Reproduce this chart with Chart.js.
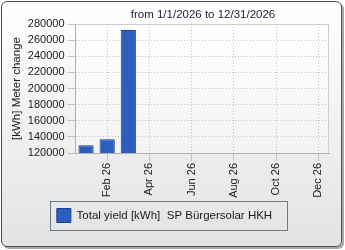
<!DOCTYPE html>
<html>
<head>
<meta charset="utf-8">
<script src="https://cdn.jsdelivr.net/npm/chart.js@4"></script>
<style>
  html, body { margin: 0; padding: 0; background: #fff; }
  #wrap { position: relative; width: 345px; height: 250px; }
  #panel {
    position: absolute; left: 1px; top: 1px; width: 339px; height: 244px;
    border: 1px solid #4a5058; border-radius: 6px;
    background: linear-gradient(#ffffff, #e3e3e3);
    box-shadow: 2px 2px 0 #a8a8a8;
  }
  #chart1 { position: absolute; left: 0; top: 0; }
</style>
</head>
<body>
<div id="wrap">
  <div id="panel"></div>
  <canvas id="chart1" width="345" height="250"></canvas>
</div>
<script>
// month categories for 2026
const months = ["Jan 26", "Feb 26", "Mar 26", "Apr 26", "May 26", "Jun 26",
                "Jul 26", "Aug 26", "Sep 26", "Oct 26", "Nov 26", "Dec 26"];
// meter change per month (kWh), only Jan-Mar recorded
const totalYield = [129500, 137000, 272500, null, null, null, null, null, null, null, null, null];
const seriesName = "Total yield [kWh]  SP Bürgersolar HKH";
const titleText = "from 1/1/2026 to 12/31/2026";
const yTitle = "[kWh] Meter change";

const FONT = "'Liberation Sans', Arial, sans-serif";
const txt = "#1a1a1a";
const gridCol = "#c4c4c4";

// plot background + frame, title, legend border
Chart.register({
  id: "panelBits",
  beforeDraw: function (chart) {
    const ctx = chart.ctx;
    const a = chart.chartArea;
    const g = ctx.createLinearGradient(0, a.top, 0, a.bottom);
    g.addColorStop(0, "#ffffff");
    g.addColorStop(1, "#f3f3f3");
    ctx.save();
    ctx.fillStyle = g;
    ctx.fillRect(a.left, a.top, a.right - a.left, a.bottom - a.top);
    ctx.strokeStyle = "#cfcfcf";
    ctx.lineWidth = 1;
    ctx.beginPath();
    ctx.moveTo(a.left, a.top + 0.5);
    ctx.lineTo(a.right - 0.5, a.top + 0.5);
    ctx.lineTo(a.right - 0.5, a.bottom);
    ctx.stroke();
    ctx.restore();
  },
  afterDraw: function (chart) {
    const ctx = chart.ctx;
    ctx.save();
    ctx.font = "11.5px " + FONT;
    ctx.fillStyle = "#1c1c3a";
    ctx.textAlign = "center";
    ctx.textBaseline = "middle";
    ctx.fillText(titleText, 203, 15);
    const hb = chart.legend.legendHitBoxes[0];
    if (hb) {
      const cy = hb.top + hb.height / 2;
      ctx.strokeStyle = "#6b7885";
      ctx.lineWidth = 1;
      ctx.strokeRect(Math.round(hb.left - 7) + 0.5, Math.round(cy - 15) + 0.5,
                     Math.round(hb.width + 22), 29);
    }
    ctx.restore();
  },
});

new Chart(document.getElementById("chart1"), {
  type: "bar",
  data: {
    labels: months,
    datasets: [{
      label: seriesName,
      data: totalYield,
      backgroundColor: "#2b5fbf",
      borderColor: "#1c3f86",
      borderWidth: 1,
      borderSkipped: false,
      barPercentage: 0.72,
      categoryPercentage: 1.0,
    }],
  },
  options: {
    responsive: false,
    animation: false,
    layout: { padding: { top: 24, right: 16, left: 0, bottom: 17.5 } },
    plugins: {
      title: { display: false },
      tooltip: { enabled: false },
      legend: {
        position: "bottom",
        labels: {
          boxWidth: 14, boxHeight: 14,
          color: txt,
          font: { family: FONT, size: 11.5 },
          padding: 10,
        },
      },
    },
    scales: {
      x: {
        offset: true,
        grid: {
          offset: false,
          tickLength: 8,
          color: function (c) { return c.index % 2 === 1 ? gridCol : "rgba(0,0,0,0)"; },
          tickColor: function (c) { return c.index % 2 === 1 ? gridCol : "rgba(0,0,0,0)"; },
        },
        border: { color: "#b0b0b0", dash: [1, 2] },
        ticks: {
          autoSkip: false,
          minRotation: 90, maxRotation: 90,
          padding: 2,
          color: txt,
          font: { family: FONT, size: 11 },
          callback: function (v, i) { return i % 2 === 1 ? months[i] : ""; },
        },
        afterFit: function (s) { s.height = 45.5; },
      },
      y: {
        min: 120000, max: 280000,
        grid: { tickLength: 8, color: gridCol },
        border: { color: "#b0b0b0", dash: [1, 2] },
        ticks: {
          stepSize: 20000,
          autoSkip: false,
          padding: 3,
          color: txt,
          font: { family: FONT, size: 11 },
          callback: function (v) { return String(v); },
        },
        title: {
          display: true, text: yTitle, color: txt,
          font: { family: FONT, size: 11.5 },
          padding: { top: 10, bottom: 0 },
        },
        afterFit: function (s) { s.width = 75.5; },
      },
    },
  },
});
</script>
</body>
</html>
